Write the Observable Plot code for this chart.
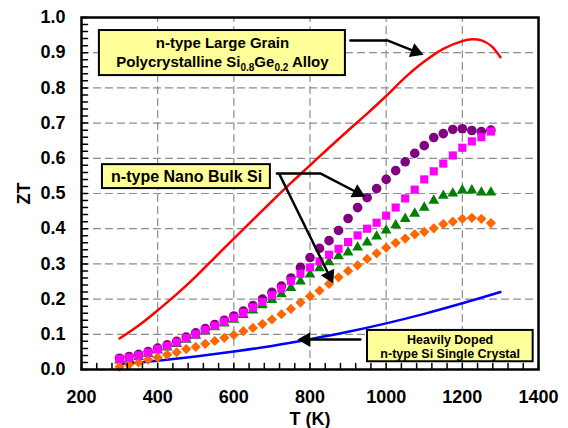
<!DOCTYPE html>
<html>
<head>
<meta charset="utf-8">
<script src="https://cdn.jsdelivr.net/npm/d3@7"></script>
<script src="https://cdn.jsdelivr.net/npm/@observablehq/plot@0.6"></script>
<style>
  html, body { margin: 0; padding: 0; background: #fff; }
  #chart { width: 568px; height: 428px; }
</style>
</head>
<body>
<div id="chart"></div>
<script>
// ---------- data ----------
const T = [300,325,350,375,400,425,450,475,500,525,550,575,600,625,650,675,700,725,750,775,
           800,825,850,875,900,925,950,975,1000,1025,1050,1075,1100,1125,1150,1175,1200,1225,1250,1275];

const nanoCircles = [0.032,0.037,0.043,0.051,0.061,0.070,0.080,0.092,0.104,0.116,0.128,0.140,0.152,0.166,0.182,0.200,0.219,0.237,0.260,0.290,
                     0.318,0.344,0.366,0.395,0.429,0.460,0.488,0.514,0.540,0.565,0.590,0.614,0.636,0.659,0.670,0.682,0.684,0.679,0.676,0.680];
const nanoSquares = [0.030,0.034,0.040,0.048,0.058,0.067,0.077,0.089,0.100,0.112,0.124,0.136,0.147,0.161,0.176,0.192,0.211,0.230,0.252,0.272,
                     0.290,0.307,0.326,0.343,0.362,0.381,0.400,0.417,0.437,0.460,0.486,0.511,0.540,0.563,0.585,0.608,0.630,0.648,0.660,0.676];
const nanoTriangles = [0.026,0.030,0.036,0.044,0.054,0.063,0.073,0.085,0.096,0.108,0.120,0.131,0.142,0.155,0.168,0.183,0.198,0.214,0.232,0.250,
                       0.270,0.288,0.305,0.322,0.333,0.347,0.361,0.378,0.395,0.410,0.428,0.443,0.460,0.480,0.494,0.500,0.509,0.509,0.503,0.503];
const nanoDiamonds = [0.008,0.014,0.020,0.028,0.034,0.042,0.049,0.058,0.064,0.073,0.081,0.090,0.098,0.109,0.118,0.129,0.142,0.157,0.172,0.190,
                      0.208,0.224,0.243,0.262,0.280,0.296,0.314,0.330,0.346,0.360,0.372,0.384,0.391,0.401,0.413,0.420,0.428,0.431,0.428,0.416];

const sigeT  = [300,350,400,450,500,550,600,650,700,750,800,850,900,950,1000,1050,1100,1150,1200,1225,1250,1275,1300];
const sigeZT = [0.088,0.125,0.168,0.214,0.264,0.318,0.372,0.425,0.478,0.530,0.580,0.630,0.679,0.727,0.777,0.830,0.875,0.911,0.933,0.938,0.935,0.920,0.887];

const crystalT  = [300,400,500,600,700,800,900,1000,1100,1200,1300];
const crystalZT = [0.015,0.025,0.037,0.051,0.067,0.086,0.107,0.131,0.158,0.188,0.220];

const xTicks = [200,400,600,800,1000,1200,1400];
const yTicks = [0,0.1,0.2,0.3,0.4,0.5,0.6,0.7,0.8,0.9,1.0];
const xMinor = [200,240,280,320,360,400,440,480,520,560,600,640,680,720,760,800,840,880,920,960,1000,1040,1080,1120,1160,1200,1240,1280,1320,1360,1400];
const yMinor = [0,0.02,0.04,0.06,0.08,0.1,0.12,0.14,0.16,0.18,0.2,0.22,0.24,0.26,0.28,0.3,0.32,0.34,0.36,0.38,0.4,0.42,0.44,0.46,0.48,0.5,
                0.52,0.54,0.56,0.58,0.6,0.62,0.64,0.66,0.68,0.7,0.72,0.74,0.76,0.78,0.8,0.82,0.84,0.86,0.88,0.9,0.92,0.94,0.96,0.98,1.0];

// annotations (in data coordinates)
const boxes = [
  {x1: 247, x2: 893, y1: 0.835, y2: 0.963},
  {x1: 255, x2: 696, y1: 0.514, y2: 0.582},
  {x1: 951, x2: 1386, y1: 0.022, y2: 0.111}
];
const labels = [
  {x: 570, y: 0.926, text: "n-type Large Grain", size: 15},
  {x: 570, y: 0.872, text: "Polycrystalline Si0.8Ge0.2 Alloy", size: 15},
  {x: 476, y: 0.548, text: "n-type Nano Bulk Si", size: 16},
  {x: 1168, y: 0.084, text: "Heavily Doped", size: 12.5},
  {x: 1168, y: 0.044, text: "n-type Si Single Crystal", size: 12.5}
];
const arrows = [
  [[906, 0.935], [1003, 0.935], [1098, 0.894]],
  [[713, 0.557], [827, 0.557], [945, 0.491]],
  [[720, 0.554], [861, 0.244]],
  [[932, 0.085], [767, 0.085]]
];

// ---------- layout ----------
const W = 568, H = 428;
const mL = 81, mR = 30, mT = 17, mB = 59;
const innerW = W - mL - mR, innerH = H - mT - mB;
const xDom = [200, 1400], yDom = [0, 1];
const kx = innerW / (xDom[1] - xDom[0]), ky = innerH / (yDom[1] - yDom[0]);
const headR = 5.5;
const headD = 2 * Math.sqrt(Math.PI * headR * headR / (3 * Math.sqrt(3)));
const tickLen = 6;

const toRows = (xs, ys) => xs.map((x, i) => ({x, y: ys[i]}));

// grid and tick segments, expressed in data coordinates
const gridRows = [];
xTicks.slice(1, -1).forEach((x, i) => { gridRows.push({id: "gx" + i, x, y: yDom[0]}, {id: "gx" + i, x, y: yDom[1]}); });
yTicks.slice(1, -1).forEach((y, i) => { gridRows.push({id: "gy" + i, x: xDom[0], y}, {id: "gy" + i, x: xDom[1], y}); });
const tickRows = [];
xMinor.forEach((x, i) => { tickRows.push({id: "tx" + i, x, y: yDom[0]}, {id: "tx" + i, x, y: yDom[0] + tickLen / ky}); });
yMinor.forEach((y, i) => { tickRows.push({id: "ty" + i, x: xDom[0], y}, {id: "ty" + i, x: xDom[0] + tickLen / kx, y}); });

const arrowLines = [];
const arrowHeads = [];
arrows.forEach((pts, id) => {
  const n = pts.length;
  const [x0, y0] = pts[n - 2], [x1, y1] = pts[n - 1];
  const sx = (x1 - x0) * kx, sy = -(y1 - y0) * ky;
  const len = Math.hypot(sx, sy), ux = sx / len, uy = sy / len;
  const cx = x1 - headD * ux / kx, cy = y1 + headD * uy / ky;
  const angle = Math.atan2(sx, -sy) * 180 / Math.PI;
  pts.slice(0, n - 1).forEach(([x, y]) => arrowLines.push({id, x, y}));
  arrowLines.push({id, x: cx, y: cy});
  arrowHeads.push({x: cx, y: cy, angle});
});

const chart = Plot.plot({
  width: W, height: H,
  marginLeft: mL, marginRight: mR, marginTop: mT, marginBottom: mB,
  style: {fontFamily: "'Liberation Sans', Arial, sans-serif", fontSize: "18px", fontWeight: "bold", background: "#fff", color: "#000"},
  x: {domain: xDom, ticks: xTicks, tickFormat: d => String(d), tickSize: 0, tickPadding: 21,
      label: "T (K)", labelAnchor: "center", labelOffset: 55, labelArrow: false},
  y: {domain: yDom, ticks: yTicks, tickFormat: d3.format(".1f"), tickSize: 0, tickPadding: 16,
      label: "ZT", labelAnchor: "center", labelOffset: 64, labelArrow: false},
  marks: [
    Plot.line(gridRows, {x: "x", y: "y", z: "id", stroke: "#8c8c8c", strokeWidth: 1.2, strokeDasharray: "7,5"}),
    Plot.line(toRows(sigeT, sigeZT), {x: "x", y: "y", stroke: "#ff0000", strokeWidth: 2.5, curve: "catmull-rom"}),
    Plot.line(toRows(crystalT, crystalZT), {x: "x", y: "y", stroke: "#0000ff", strokeWidth: 2.5, curve: "catmull-rom"}),
    Plot.dot(toRows(T, nanoCircles), {x: "x", y: "y", r: 4.8, fill: "#800080", symbol: "circle"}),
    Plot.dot(toRows(T, nanoTriangles), {x: "x", y: "y", r: 4, fill: "#008000", symbol: "triangle"}),
    Plot.dot(toRows(T, nanoDiamonds), {x: "x", y: "y", r: 4.6, fill: "#ff6600", symbol: "diamond2"}),
    Plot.dot(toRows(T, nanoSquares), {x: "x", y: "y", r: 4.6, fill: "#ff00ff", symbol: "square"}),
    Plot.rect(boxes, {x1: "x1", x2: "x2", y1: "y1", y2: "y2", fill: "#ffff99", stroke: "#000", strokeWidth: 2}),
    ...labels.map(l => Plot.text([l], {x: "x", y: "y", text: "text", fontSize: l.size, fontWeight: "bold", fill: "#000", textAnchor: "middle"})),
    Plot.line(arrowLines, {x: "x", y: "y", z: "id", stroke: "#000", strokeWidth: 2.5}),
    Plot.dot(arrowHeads, {x: "x", y: "y", r: headR, fill: "#000", symbol: "triangle", rotate: "angle"}),
    Plot.line(tickRows, {x: "x", y: "y", z: "id", stroke: "#000", strokeWidth: 1.5}),
    Plot.frame({stroke: "#000", strokeWidth: 2.5})
  ]
});

// subscripts in the alloy label
d3.select(chart).selectAll("text").each(function() {
  const el = d3.select(this);
  if (el.text() === "Polycrystalline Si0.8Ge0.2 Alloy") {
    el.text(null);
    el.append("tspan").text("Polycrystalline Si");
    el.append("tspan").attr("dy", 4).attr("font-size", 10).text("0.8");
    el.append("tspan").attr("dy", -4).text("Ge");
    el.append("tspan").attr("dy", 4).attr("font-size", 10).text("0.2");
    el.append("tspan").attr("dy", -4).text(" Alloy");
  }
});

document.getElementById("chart").appendChild(chart);
</script>
</body>
</html>
